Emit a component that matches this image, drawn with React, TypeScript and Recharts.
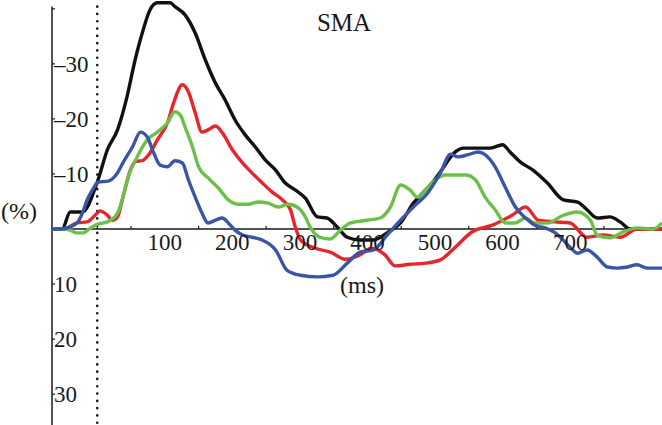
import { LineChart, Line, XAxis, YAxis, ReferenceLine, ReferenceDot } from "recharts";

// time (ms) and change (%); negative values plotted upward
const blackT = [-67, -52, -40, -22, 0, 15, 30, 44, 56, 68, 78, 89, 108, 115, 130, 145, 160, 175, 189, 204, 219, 234, 249, 264, 278, 293, 308, 326, 340, 355, 370, 389, 409, 429, 449, 468, 483, 493, 508, 530, 542, 563, 582, 600, 611, 626, 645, 666, 690, 711, 725, 740, 759, 774, 789, 836];
const blackV = [0, 0, -3.1, -3.1, -8.5, -14.4, -18, -24, -30.7, -36.2, -39.8, -41.1, -41.1, -40.4, -38.9, -35.6, -30.7, -26.5, -23.5, -19.8, -17.1, -14.9, -12.5, -10.7, -8.4, -7.1, -5.6, -2.2, -2, -0.4, 1.5, 2, 2, 0.7, -1.1, -4.7, -6.7, -8, -10.4, -14, -14.7, -14.7, -14.7, -15.3, -14, -12.2, -10.7, -8.4, -5.3, -4.9, -3.5, -2, -2.2, -1.3, 0, 0];

const redT = [-67, -50, -30, -15, 0, 4, 15, 22, 30, 38, 49, 56, 68, 78, 89, 104, 113, 126, 135, 145, 155, 164, 175, 185, 200, 215, 229, 244, 259, 274, 286, 293, 301, 323, 345, 367, 386, 407, 426, 441, 463, 486, 508, 530, 555, 585, 614, 634, 653, 678, 700, 725, 749, 774, 799, 836];
const redV = [0, 0, -1.1, -1.3, -2.9, -3.3, -2.5, -1.6, -2.2, -5.8, -10.7, -12.2, -12.5, -13.8, -16.2, -19.3, -22.9, -26.2, -24.9, -21.1, -17.6, -18, -18.7, -17.5, -14.4, -12, -10.2, -8.4, -6.7, -5.3, -3.5, -0.4, 2, 3.5, 4.2, 5.5, 4.9, 3.5, 4.7, 6.7, 6.4, 6.2, 5.6, 3.3, 0.5, -0.7, -2.5, -4, -1.6, -1.3, -1.1, 1.5, 1.1, 1.5, 0, 0];

const greenT = [-67, -52, -40, -30, -21, -10, 1, 15, 30, 37, 46, 59, 74, 89, 104, 115, 123, 130, 141, 150, 164, 179, 194, 209, 224, 238, 253, 268, 283, 298, 308, 315, 330, 345, 360, 375, 400, 419, 434, 449, 463, 474, 489, 500, 515, 545, 560, 574, 589, 604, 619, 634, 648, 666, 690, 711, 730, 740, 759, 779, 799, 823, 836];
const greenV = [0, 0, 0.2, 0.7, 0.7, -0.2, -0.9, -1.3, -2.9, -5.3, -9.5, -13.1, -16.2, -17.6, -19.3, -21.3, -20.7, -18.5, -14.9, -11.3, -9.3, -7.5, -5.3, -4.5, -4.5, -4.9, -4.7, -4, -4.5, -3.8, -2.2, -0.4, 1.5, 1.8, 0.2, -1.1, -1.6, -2, -4, -8, -7.1, -5.8, -7.5, -8.9, -9.8, -9.8, -8.9, -5.8, -3.5, -1.1, -1.1, -2, -1.1, -1.1, -2.5, -3.1, -1.6, 1.1, 1.6, 0.5, -0.2, 0, -1.1];

const blueT = [-67, -55, -40, -30, -22, -15, -7, 1, 16, 30, 38, 52, 64, 74, 83, 93, 104, 115, 126, 135, 145, 155, 164, 175, 185, 194, 204, 215, 229, 244, 264, 281, 301, 326, 349, 370, 389, 409, 429, 449, 468, 489, 508, 523, 534, 549, 564, 574, 589, 604, 619, 634, 648, 663, 678, 700, 711, 725, 740, 755, 770, 785, 799, 814, 836];
const blueV = [0, 0, -0.4, -1.1, -2.9, -5.3, -7.1, -8.5, -8.7, -10.2, -12, -14.9, -17.6, -16.7, -14, -11.6, -11.3, -12.4, -12, -8.9, -5.8, -2.9, -1.1, -1.6, -2, -1.1, 0.2, 1.1, 1.5, 2, 3.8, 7.5, 8.4, 8.7, 8.4, 6.2, 4.2, 3.8, 1.1, -1.6, -4, -6.5, -10.2, -13.6, -13.1, -13.5, -14, -13.5, -11.3, -7.6, -4, -2, -0.7, -0.2, 0.7, 3.3, 4.4, 3.8, 5.1, 6.9, 7.1, 6.9, 6.5, 7.1, 7.1];

const xLabels = [100, 200, 300, 400, 500, 600, 700];
const xMinor = [0, 50, 150, 250, 350, 450, 550, 650, 750];
const yTicks = [-40, -30, -20, -10, 0, 10, 20, 30];

const toPts = (t: number[], v: number[]) => t.map((x, i) => ({ t: x, v: v[i] }));

const serif = '"Liberation Serif", "DejaVu Serif", serif';
const ink = "#1a1a1a";

const fmtY = (v: number) => (v === 0 || v === -40 ? "" : v < 0 ? "\u2013" + Math.abs(v) : String(v));

// labels sit to the right of the axis line, with a short inward tick
const YTick = (props: any) => {
  const { x, y, payload } = props;
  return (
    <g>
      {payload.value !== 0 && <line x1={x} x2={x + 3} y1={y} y2={y} stroke={ink} strokeWidth={1.2} />}
      <text x={x + 2} y={y} dy="0.34em" textAnchor="start" fill={ink} fontSize={23} fontFamily={serif}>
        {fmtY(payload.value)}
      </text>
    </g>
  );
};

export default function App() {
  const W = 662, H = 425;
  const lineProps = { type: "monotone" as const, dataKey: "v", dot: false, strokeWidth: 3.4, isAnimationActive: false, strokeLinejoin: "round" as const };
  return (
    <div style={{ position: "absolute", left: 0, top: 0, width: W, height: H, background: "#fff" }}>
      <LineChart width={W} height={H} margin={{ top: 0, right: 0, bottom: 0, left: 0 }}>
        <XAxis type="number" dataKey="t" domain={[-67, 836]} hide allowDataOverflow />
        <YAxis
          type="number"
          domain={[-41.6, 35.6]}
          reversed
          width={52}
          ticks={yTicks}
          interval={0}
          allowDataOverflow
          axisLine={false}
          tickLine={false}
          tickSize={0}
          tickMargin={0}
          tick={<YTick />}
        />
        <ReferenceLine segment={[{ x: -67, y: -40.4 }, { x: -67, y: 35.6 }]} stroke={ink} strokeWidth={1.5} />
        <ReferenceLine y={0} stroke={ink} strokeWidth={1.3} />
        <ReferenceLine segment={[{ x: 0, y: -40.4 }, { x: 0, y: 35.6 }]} stroke={ink} strokeWidth={2.6} strokeDasharray="0.1 7.2" strokeLinecap="round" />
        {xMinor.map(m => (
          <ReferenceLine key={"m" + m} segment={[{ x: m, y: 0 }, { x: m, y: -0.55 }]} stroke={ink} strokeWidth={1.2} />
        ))}
        {xLabels.map(l => (
          <ReferenceDot key={"l" + l} x={l} y={0} r={0} fill="none" stroke="none"
            label={{ value: String(l), position: "bottom", offset: 5, fill: ink, fontSize: 23, fontFamily: serif }} />
        ))}
        <Line {...lineProps} data={toPts(blackT, blackV)} stroke="#111111" />
        <Line {...lineProps} data={toPts(redT, redV)} stroke="#e5262b" />
        <Line {...lineProps} data={toPts(greenT, greenV)} stroke="#6cc04a" />
        <Line {...lineProps} data={toPts(blueT, blueV)} stroke="#3a55a6" />
      </LineChart>
      <svg width={W} height={H} style={{ position: "absolute", left: 0, top: 0, pointerEvents: "none" }}>
        <text x={344} y={31} textAnchor="middle" fontFamily={serif} fontSize={25} fill={ink}>SMA</text>
        <text x={1} y={219} fontFamily={serif} fontSize={24} fill={ink}>(%)</text>
        <text x={362} y={293} textAnchor="middle" fontFamily={serif} fontSize={24} fill={ink}>(ms)</text>
      </svg>
    </div>
  );
}
